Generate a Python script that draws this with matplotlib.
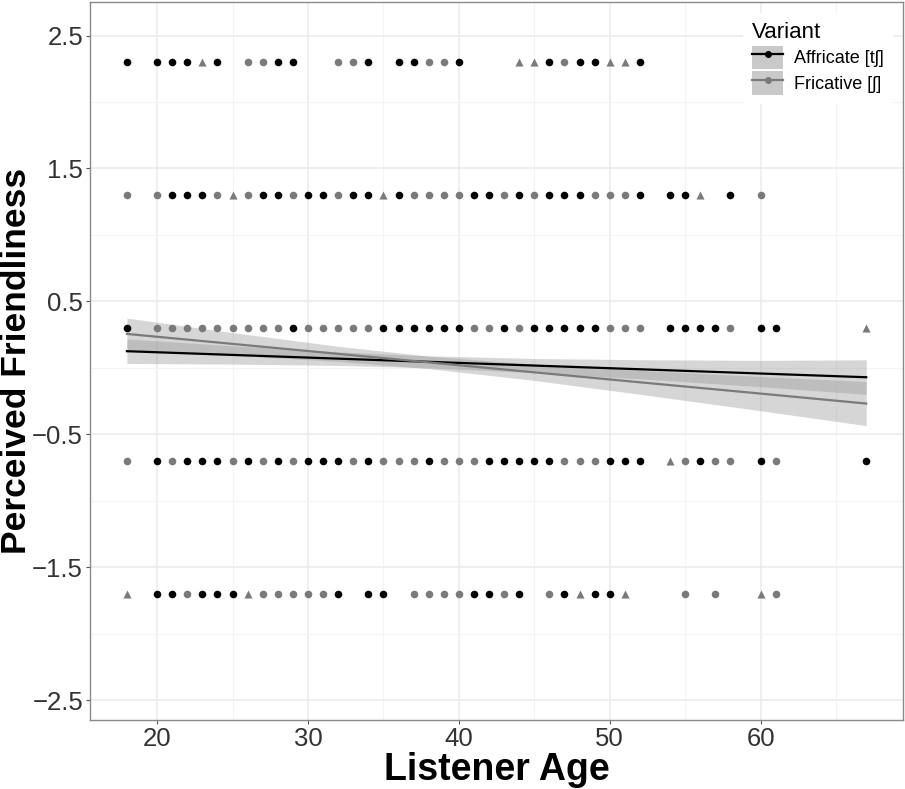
import numpy as np
import matplotlib
matplotlib.use("Agg")
from matplotlib import pyplot as plt
from matplotlib.lines import Line2D
from matplotlib.patches import Patch

plt.rcParams['font.family'] = ['Liberation Sans', 'DejaVu Sans']

# rating levels (rows of points)
levels = [2.3, 1.3, 0.3, -0.7, -1.7]

# ages in each row and the look of each point: k = black dot, g = grey dot, t = grey triangle
ages_r1 = [18, 20, 21, 22, 23, 24, 26, 27, 28, 29, 32, 33, 34, 36, 37, 38, 39, 40,
           44, 45, 46, 47, 48, 49, 50, 51, 52]
kinds_r1 = "kkkktkggkkggkkkggkttkgkkttk"

ages_r2 = [18] + list(range(20, 53)) + [54, 55, 56, 58, 60]
kinds_r2 = "g" + "gkkkgtgkkgkkgkktkggggkkgkgkkkgggk" + "kktkg"

ages_r3 = [18] + list(range(20, 53)) + [54, 55, 56, 57, 58, 60, 61, 67]
kinds_r3 = "k" + "gggggggggkgggggkkkkkkggkgkkkkkggg" + "kkkkgkkt"

ages_r4 = [18] + list(range(20, 53)) + [54, 55, 56, 57, 58, 60, 61, 67]
kinds_r4 = "g" + "kgkkkgkgkgkkkgkgggkgggkkkkkgggkkk" + "tgkggkgk"

ages_r5 = [18, 20, 21, 22, 23, 24, 25, 26, 27, 28, 29, 30, 31, 32, 34, 35, 37, 38,
           39, 40, 41, 42, 43, 44, 46, 47, 48, 49, 50, 51, 55, 57, 60, 61]
kinds_r5 = "tkkgkkktgggggkkkggggkkgkgktkktggtg"

# fitted lines with confidence band
fit_age = [18, 25, 32, 38, 45, 52, 60, 67]
aff_fit = [0.125, 0.097, 0.069, 0.045, 0.017, -0.011, -0.043, -0.071]
aff_lo = [0.033, 0.028, 0.018, 0.000, -0.036, -0.083, -0.142, -0.200]
aff_hi = [0.217, 0.166, 0.120, 0.090, 0.070, 0.061, 0.056, 0.060]
fri_fit = [0.255, 0.180, 0.105, 0.041, -0.034, -0.109, -0.194, -0.269]
fri_lo = [0.136, 0.095, 0.048, -0.006, -0.095, -0.199, -0.323, -0.435]
fri_hi = [0.374, 0.265, 0.162, 0.088, 0.027, -0.019, -0.065, -0.103]

labels = ["Affricate [t\u0283]", "Fricative [\u0283]"]
black = "#000000"
grey = "#7a7a7a"

fig = plt.figure(figsize=(9.05, 7.89), dpi=100)
ax = fig.add_axes([0.0994, 0.0875, 0.8986, 0.9095])

rows = [(ages_r1, kinds_r1), (ages_r2, kinds_r2), (ages_r3, kinds_r3),
        (ages_r4, kinds_r4), (ages_r5, kinds_r5)]
for lev, (ages, kinds) in zip(levels, rows):
    ages = np.array(ages)
    kinds = np.array(list(kinds))
    m = kinds == "k"
    ax.scatter(ages[m], np.full(m.sum(), lev), s=30, c=black, marker="o", lw=0, zorder=3)
    m = kinds == "g"
    ax.scatter(ages[m], np.full(m.sum(), lev), s=30, c=grey, marker="o", lw=0, zorder=3)
    m = kinds == "t"
    ax.scatter(ages[m], np.full(m.sum(), lev), s=34, c=grey, marker="^", lw=0, zorder=3)

ax.fill_between(fit_age, aff_lo, aff_hi, color="#999999", alpha=0.4, lw=0, zorder=2)
ax.fill_between(fit_age, fri_lo, fri_hi, color="#999999", alpha=0.4, lw=0, zorder=2)
ax.plot(fit_age, aff_fit, color=black, lw=1.6, zorder=4)
ax.plot(fit_age, fri_fit, color=grey, lw=1.6, zorder=4)

ax.set_xlim(15.55, 69.45)
ax.set_ylim(-2.65, 2.75)
ax.set_xticks([20, 30, 40, 50, 60])
ax.set_xticks([25, 35, 45, 55, 65], minor=True)
ax.set_yticks([2.5, 1.5, 0.5, -0.5, -1.5, -2.5])
ax.set_yticklabels(["2.5", "1.5", "0.5", "\u22120.5", "\u22121.5", "\u22122.5"])
ax.set_yticks([2, 1, 0, -1, -2], minor=True)
ax.grid(which="major", color="#ebebeb", lw=1.1, zorder=0)
ax.grid(which="minor", color="#f4f4f4", lw=0.8, zorder=0)
ax.set_axisbelow(True)
ax.tick_params(which="major", labelsize=18.5, labelcolor="#333333", color="#555555",
               length=3, width=0.8, pad=2)
ax.tick_params(which="minor", length=0)
for sp in ax.spines.values():
    sp.set_color("#8a8a8a")
    sp.set_linewidth(1.0)

ax.set_xlabel("Listener Age", fontsize=27, fontweight="bold", labelpad=1)
ax.set_ylabel("Perceived Friendliness", fontsize=25.5, fontweight="bold")
ax.yaxis.set_label_coords(-0.070, 0.5)

handles = [
    (Patch(facecolor="#c9c9c9", edgecolor="none"),
     Line2D([], [], color=black, lw=1.6, marker="o", markersize=4)),
    (Patch(facecolor="#c9c9c9", edgecolor="none"),
     Line2D([], [], color=grey, lw=1.6, marker="o", markersize=4)),
]
leg = ax.legend(handles, labels, title="Variant", loc="upper right",
                bbox_to_anchor=(0.998, 0.998), fontsize=13, title_fontsize=16,
                frameon=True, facecolor="white", edgecolor="none", framealpha=1,
                handlelength=1.7, handleheight=1.6, labelspacing=0.15,
                borderpad=0.5, handletextpad=0.6)
leg._legend_box.align = "left"

plt.savefig("out.png", dpi=100)
